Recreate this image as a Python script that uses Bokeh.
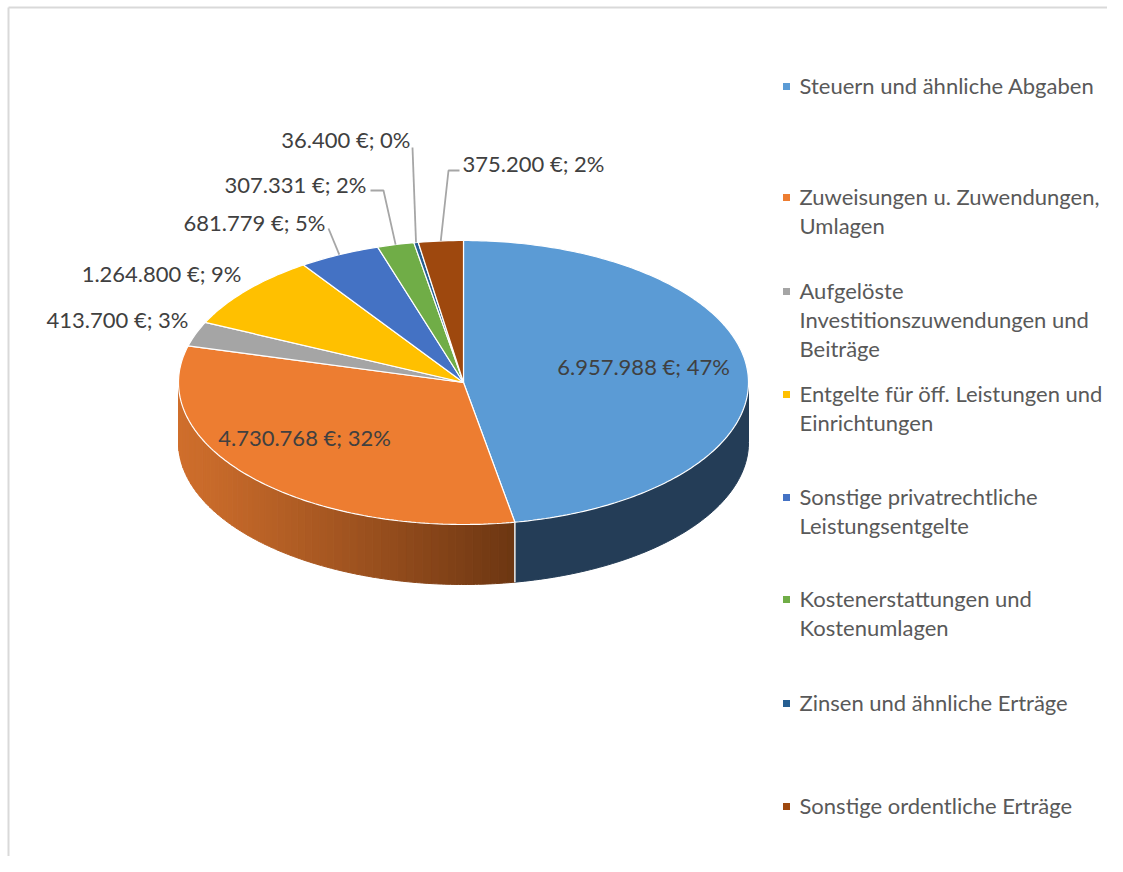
import numpy as np
from bokeh.plotting import figure
from bokeh.models import Range1d
from bokeh.core.properties import value
from bokeh.embed import file_html
from bokeh.resources import INLINE

# ---------------- data ----------------
categories = [
    "Steuern und ähnliche Abgaben",
    "Zuweisungen u. Zuwendungen, Umlagen",
    "Aufgelöste Investitionszuwendungen und Beiträge",
    "Entgelte für öff. Leistungen und Einrichtungen",
    "Sonstige privatrechtliche Leistungsentgelte",
    "Kostenerstattungen und Kostenumlagen",
    "Zinsen und ähnliche Erträge",
    "Sonstige ordentliche Erträge",
]
legend_lines = [
    ["Steuern und ähnliche Abgaben"],
    ["Zuweisungen u. Zuwendungen,", "Umlagen"],
    ["Aufgelöste", "Investitionszuwendungen und", "Beiträge"],
    ["Entgelte für öff. Leistungen und", "Einrichtungen"],
    ["Sonstige privatrechtliche", "Leistungsentgelte"],
    ["Kostenerstattungen und", "Kostenumlagen"],
    ["Zinsen und ähnliche Erträge"],
    ["Sonstige ordentliche Erträge"],
]
values = [6957988, 4730768, 413700, 1264800, 681779, 307331, 36400, 375200]
pct_labels = [47, 32, 3, 9, 5, 2, 0, 2]
colors = ["#5B9BD5", "#ED7D31", "#A5A5A5", "#FFC000", "#4472C4", "#70AD47", "#255E91", "#9E480E"]
side_colors = ["#243D57", "#B35C22", "#6E6E6E", "#A87F00", "#2D4C84", "#4A7330", "#183E60", "#692F09"]

# ---------------- layout ----------------
W, H = 1107, 856
CX, CY, RX, RY, DEPTH = 463, 382, 285, 142, 60

# label anchors (x, y, align) in picture pixels
label_pos = [(643, 366, "center"), (304, 437, "center"), (188, 319, "right"),
             (241, 273, "right"), (325, 222, "right"), (366, 184, "right"),
             (410, 139, "right"), (462, 163, "left")]
# leader polylines (points after the pie edge point), None = no leader
leaders = [None, None, None, None, [(328, 228)], [(383, 190), (370, 190)],
           [(412, 147)], [(448, 170), (459, 170)]]
legend_first_y = [85, 196, 290, 393, 496, 598, 702, 805]
LEG_MARK_X, LEG_TEXT_X, LEG_LINE_H = 786, 799, 29

LABEL_FONT = "Lato"
LABEL_SIZE = "22px"
LEGEND_SIZE = "22px"

p = figure(width=W, height=H, output_backend="svg", toolbar_location=None,
           x_range=Range1d(0, W), y_range=Range1d(H, 0),
           min_border=0, outline_line_color=None)
p.axis.visible = False
p.grid.visible = False
p.background_fill_color = "white"
p.border_fill_color = "white"

total = float(sum(values))
fracs = np.array(values) / total
cum = np.concatenate([[0.0], np.cumsum(fracs)])


def pt(f, dy=0.0):
    a = 2 * np.pi * np.asarray(f)
    return CX + RX * np.sin(a), CY - RY * np.cos(a) + dy


def hexmix(c1, c2, t):
    a = [int(c1[i:i + 2], 16) for i in (1, 3, 5)]
    b = [int(c2[i:i + 2], 16) for i in (1, 3, 5)]
    return "#%02x%02x%02x" % tuple(int(round(a[k] + (b[k] - a[k]) * t)) for k in range(3))


# ---- side walls (visible front half: fraction 0.25 .. 0.75) ----
sx, sy, sc = [], [], []
for i in range(len(values)):
    f0, f1 = max(cum[i], 0.25), min(cum[i + 1], 0.75)
    if f1 <= f0:
        continue
    if i == 1:
        edges = np.linspace(f0, f1, 60)
        xl, _ = pt(0.75)
        xr, _ = pt(f0)
        for a, b in zip(edges[:-1], edges[1:]):
            ff = np.linspace(a, b, 4)
            tx, ty = pt(ff)
            bx, by = pt(ff[::-1], DEPTH)
            xm = float(np.mean(tx))
            t = (xm - xl) / (xr - xl)
            c = hexmix("#CF6E2C", "#6C3612", t ** 1.1)
            sx.append(list(tx) + list(bx))
            sy.append(list(ty) + list(by))
            sc.append(c)
    else:
        ff = np.linspace(f0, f1, 80)
        tx, ty = pt(ff)
        bx, by = pt(ff[::-1], DEPTH)
        sx.append(list(tx) + list(bx))
        sy.append(list(ty) + list(by))
        sc.append(side_colors[i])
p.patches(xs=sx, ys=sy, fill_color=sc, line_color=sc, line_width=1)

for i in range(1, len(values)):
    f = cum[i]
    if 0.25 < f < 0.75:
        x0, y0 = pt(f)
        x1, y1 = pt(f, DEPTH)
        p.line([float(x0), float(x1)], [float(y0), float(y1)], line_color="#E8EEF4", line_width=1.5)

# ---- top face ----
tx_all, ty_all = [], []
for i in range(len(values)):
    n = max(4, int(fracs[i] * 400))
    ff = np.linspace(cum[i], cum[i + 1], n)
    x, y = pt(ff)
    tx_all.append([CX] + list(x))
    ty_all.append([CY] + list(y))
p.patches(xs=tx_all, ys=ty_all, fill_color=colors, line_color="white", line_width=1.2)

# ---- labels ----
def fmt(v, pc):
    return f"{v:,}".replace(",", ".") + f" €; {pc}%"

for i, v in enumerate(values):
    lx, ly, al = label_pos[i]
    p.text(x=[lx], y=[ly], text=[fmt(v, pct_labels[i])], text_align=al,
           text_baseline="middle", text_font=value(LABEL_FONT),
           text_font_size=LABEL_SIZE, text_color="#404040")
    if leaders[i] is not None:
        ex, ey = pt((cum[i] + cum[i + 1]) / 2)
        xs = [float(ex)] + [q[0] for q in leaders[i]]
        ys = [float(ey)] + [q[1] for q in leaders[i]]
        p.line(xs, ys, line_color="#A6A6A6", line_width=1.8)

# ---- legend ----
for i, lines in enumerate(legend_lines):
    y0 = legend_first_y[i]
    p.scatter(x=[LEG_MARK_X], y=[y0 + 1], marker="square", size=7,
              fill_color=colors[i], line_color=None)
    for k, ln in enumerate(lines):
        p.text(x=[LEG_TEXT_X], y=[y0 + k * LEG_LINE_H], text=[ln],
               text_align="left", text_baseline="middle",
               text_font=value(LABEL_FONT), text_font_size=LEGEND_SIZE,
               text_color="#595959")

# ---- chart area border (top and left visible) ----
p.line([8, 8], [H, 7], line_color="#D9D9D9", line_width=2)
p.line([8, W], [7, 7], line_color="#D9D9D9", line_width=2)

open("out.html", "w").write(file_html(p, INLINE))
